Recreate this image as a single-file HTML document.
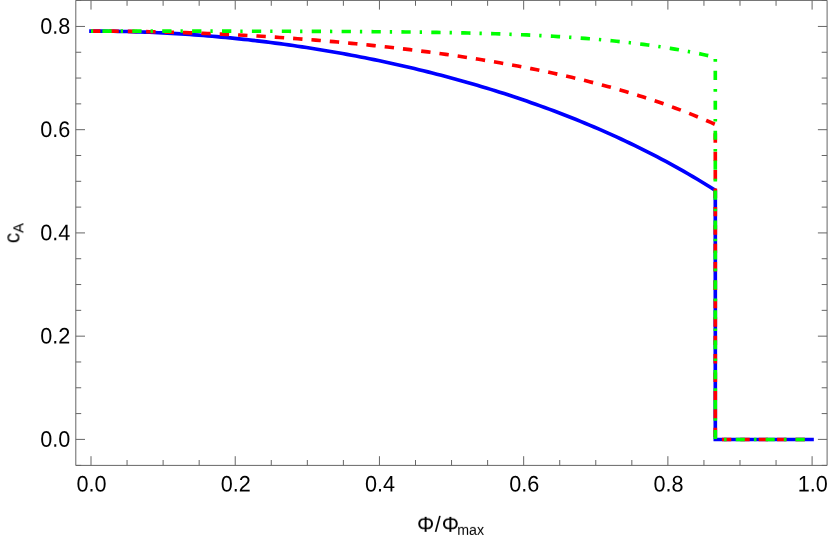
<!DOCTYPE html>
<html><head><meta charset="utf-8"><title>plot</title>
<style>html,body{margin:0;padding:0;background:#fff;}body{width:830px;height:537px;overflow:hidden;position:relative;font-family:"Liberation Sans",sans-serif;}</style>
</head><body>
<svg width="830" height="537" viewBox="0 0 830 537" style="position:absolute;left:0;top:0">
<rect x="0" y="0" width="830" height="537" fill="#fff"/>
<path d="M91.00,31.10 L95.49,31.11 L99.98,31.13 L104.47,31.16 L108.97,31.21 L113.46,31.28 L117.95,31.36 L122.44,31.45 L126.93,31.55 L131.42,31.67 L135.91,31.81 L140.41,31.96 L144.90,32.12 L149.39,32.30 L153.88,32.49 L158.37,32.70 L162.86,32.92 L167.35,33.15 L171.84,33.40 L176.34,33.66 L180.83,33.94 L185.32,34.23 L189.81,34.54 L194.30,34.86 L198.79,35.19 L203.28,35.54 L207.78,35.90 L212.27,36.28 L216.76,36.67 L221.25,37.08 L225.74,37.50 L230.23,37.93 L234.72,38.38 L239.22,38.84 L243.71,39.32 L248.20,39.81 L252.69,40.32 L257.18,40.84 L261.67,41.38 L266.16,41.93 L270.65,42.49 L275.15,43.07 L279.64,43.67 L284.13,44.28 L288.62,44.90 L293.11,45.54 L297.60,46.19 L302.09,46.86 L306.59,47.55 L311.08,48.25 L315.57,48.96 L320.06,49.69 L324.55,50.43 L329.04,51.19 L333.53,51.97 L338.03,52.75 L342.52,53.56 L347.01,54.38 L351.50,55.22 L355.99,56.07 L360.48,56.93 L364.97,57.82 L369.46,58.72 L373.96,59.63 L378.45,60.56 L382.94,61.51 L387.43,62.47 L391.92,63.45 L396.41,64.45 L400.90,65.46 L405.40,66.49 L409.89,67.53 L414.38,68.59 L418.87,69.67 L423.36,70.77 L427.85,71.88 L432.34,73.01 L436.84,74.16 L441.33,75.33 L445.82,76.51 L450.31,77.72 L454.80,78.94 L459.29,80.18 L463.78,81.43 L468.27,82.71 L472.77,84.00 L477.26,85.32 L481.75,86.65 L486.24,88.00 L490.73,89.38 L495.22,90.77 L499.71,92.18 L504.21,93.61 L508.70,95.07 L513.19,96.54 L517.68,98.04 L522.17,99.56 L526.66,101.10 L531.15,102.66 L535.65,104.24 L540.14,105.85 L544.63,107.47 L549.12,109.13 L553.61,110.80 L558.10,112.50 L562.59,114.22 L567.08,115.97 L571.58,117.74 L576.07,119.54 L580.56,121.37 L585.05,123.22 L589.54,125.09 L594.03,127.00 L598.52,128.93 L603.02,130.88 L607.51,132.87 L612.00,134.89 L616.49,136.93 L620.98,139.00 L625.47,141.11 L629.96,143.24 L634.46,145.41 L638.95,147.60 L643.44,149.83 L647.93,152.09 L652.42,154.39 L656.91,156.72 L661.40,159.08 L665.89,161.48 L670.39,163.91 L674.88,166.38 L679.37,168.89 L683.86,171.43 L688.35,174.01 L692.84,176.63 L697.33,179.29 L701.83,181.99 L706.32,184.73 L710.81,187.52 L715.30,190.34 L715.30,439.50 L812.00,439.50" fill="none" stroke="#0000ff" stroke-width="3.65" stroke-linecap="square" stroke-linejoin="miter"/>
<path d="M91.00,31.10 L95.49,31.10 L99.98,31.11 L104.47,31.13 L108.97,31.16 L113.46,31.19 L117.95,31.23 L122.44,31.28 L126.93,31.33 L131.42,31.39 L135.91,31.46 L140.41,31.53 L144.90,31.62 L149.39,31.71 L153.88,31.80 L158.37,31.91 L162.86,32.02 L167.35,32.14 L171.84,32.26 L176.34,32.39 L180.83,32.53 L185.32,32.68 L189.81,32.83 L194.30,33.00 L198.79,33.16 L203.28,33.34 L207.78,33.52 L212.27,33.71 L216.76,33.91 L221.25,34.12 L225.74,34.33 L230.23,34.55 L234.72,34.77 L239.22,35.01 L243.71,35.25 L248.20,35.50 L252.69,35.75 L257.18,36.02 L261.67,36.29 L266.16,36.57 L270.65,36.85 L275.15,37.14 L279.64,37.45 L284.13,37.75 L288.62,38.07 L293.11,38.39 L297.60,38.72 L302.09,39.06 L306.59,39.41 L311.08,39.76 L315.57,40.12 L320.06,40.49 L324.55,40.87 L329.04,41.26 L333.53,41.65 L338.03,42.05 L342.52,42.46 L347.01,42.88 L351.50,43.31 L355.99,43.74 L360.48,44.19 L364.97,44.64 L369.46,45.10 L373.96,45.57 L378.45,46.05 L382.94,46.54 L387.43,47.03 L391.92,47.54 L396.41,48.05 L400.90,48.58 L405.40,49.11 L409.89,49.65 L414.38,50.21 L418.87,50.77 L423.36,51.34 L427.85,51.93 L432.34,52.52 L436.84,53.12 L441.33,53.74 L445.82,54.36 L450.31,55.00 L454.80,55.65 L459.29,56.31 L463.78,56.98 L468.27,57.67 L472.77,58.36 L477.26,59.07 L481.75,59.79 L486.24,60.53 L490.73,61.27 L495.22,62.03 L499.71,62.81 L504.21,63.60 L508.70,64.40 L513.19,65.22 L517.68,66.05 L522.17,66.90 L526.66,67.76 L531.15,68.64 L535.65,69.54 L540.14,70.45 L544.63,71.38 L549.12,72.32 L553.61,73.29 L558.10,74.27 L562.59,75.27 L567.08,76.29 L571.58,77.33 L576.07,78.40 L580.56,79.48 L585.05,80.58 L589.54,81.70 L594.03,82.85 L598.52,84.02 L603.02,85.21 L607.51,86.42 L612.00,87.66 L616.49,88.93 L620.98,90.22 L625.47,91.53 L629.96,92.87 L634.46,94.24 L638.95,95.64 L643.44,97.07 L647.93,98.53 L652.42,100.01 L656.91,101.53 L661.40,103.08 L665.89,104.66 L670.39,106.28 L674.88,107.92 L679.37,109.61 L683.86,111.33 L688.35,113.08 L692.84,114.88 L697.33,116.71 L701.83,118.58 L706.32,120.49 L710.81,122.45 L715.30,124.44" fill="none" stroke="#ff0000" stroke-width="3.65" stroke-dasharray="9.4 8.99"/>
<path d="M715.3,124.5 L715.3,439.5 L812.0,439.5" fill="none" stroke="#ff0000" stroke-width="3.65" stroke-dasharray="9.4 9.0" stroke-dashoffset="9.60"/>
<path d="M91.00,31.10 L95.49,31.10 L99.98,31.10 L104.47,31.10 L108.97,31.10 L113.46,31.10 L117.95,31.10 L122.44,31.10 L126.93,31.11 L131.42,31.11 L135.91,31.11 L140.41,31.11 L144.90,31.11 L149.39,31.11 L153.88,31.12 L158.37,31.12 L162.86,31.12 L167.35,31.12 L171.84,31.13 L176.34,31.13 L180.83,31.13 L185.32,31.14 L189.81,31.14 L194.30,31.14 L198.79,31.15 L203.28,31.15 L207.78,31.16 L212.27,31.16 L216.76,31.17 L221.25,31.17 L225.74,31.18 L230.23,31.18 L234.72,31.19 L239.22,31.20 L243.71,31.20 L248.20,31.21 L252.69,31.22 L257.18,31.23 L261.67,31.24 L266.16,31.24 L270.65,31.25 L275.15,31.26 L279.64,31.27 L284.13,31.29 L288.62,31.30 L293.11,31.31 L297.60,31.32 L302.09,31.34 L306.59,31.35 L311.08,31.37 L315.57,31.38 L320.06,31.40 L324.55,31.42 L329.04,31.44 L333.53,31.46 L338.03,31.48 L342.52,31.50 L347.01,31.52 L351.50,31.55 L355.99,31.57 L360.48,31.60 L364.97,31.63 L369.46,31.66 L373.96,31.70 L378.45,31.73 L382.94,31.77 L387.43,31.81 L391.92,31.85 L396.41,31.89 L400.90,31.94 L405.40,31.99 L409.89,32.04 L414.38,32.09 L418.87,32.15 L423.36,32.21 L427.85,32.28 L432.34,32.34 L436.84,32.42 L441.33,32.49 L445.82,32.57 L450.31,32.65 L454.80,32.74 L459.29,32.83 L463.78,32.93 L468.27,33.03 L472.77,33.14 L477.26,33.25 L481.75,33.37 L486.24,33.50 L490.73,33.63 L495.22,33.76 L499.71,33.91 L504.21,34.06 L508.70,34.22 L513.19,34.39 L517.68,34.56 L522.17,34.75 L526.66,34.94 L531.15,35.14 L535.65,35.35 L540.14,35.57 L544.63,35.80 L549.12,36.04 L553.61,36.29 L558.10,36.56 L562.59,36.83 L567.08,37.12 L571.58,37.42 L576.07,37.73 L580.56,38.06 L585.05,38.40 L589.54,38.76 L594.03,39.13 L598.52,39.51 L603.02,39.92 L607.51,40.34 L612.00,40.78 L616.49,41.23 L620.98,41.70 L625.47,42.20 L629.96,42.71 L634.46,43.24 L638.95,43.80 L643.44,44.38 L647.93,44.98 L652.42,45.60 L656.91,46.24 L661.40,46.92 L665.89,47.61 L670.39,48.34 L674.88,49.09 L679.37,49.87 L683.86,50.67 L688.35,51.51 L692.84,52.38 L697.33,53.28 L701.83,54.21 L706.32,55.18 L710.81,56.18 L715.30,57.21" fill="none" stroke="#00ff00" stroke-width="3.65" stroke-dasharray="2.3 9.3 9.3 9.0" stroke-dashoffset="0.2"/>
<path d="M715.3,59.1 L715.3,439.5 L812.0,439.5" fill="none" stroke="#00ff00" stroke-width="3.65" stroke-dasharray="2.6 9.1 9.13 9.1"/>
<g stroke="#666666" stroke-width="1.0" fill="none">
<path d="M75.8,0.4 L827.1,0.4 L827.1,465.4 L75.8,465.4 Z"/>
<path d="M91.00,465.4 L91.00,456.20 M91.00,0.4 L91.00,9.60"/>
<path d="M127.06,465.4 L127.06,460.00 M127.06,0.4 L127.06,5.80"/>
<path d="M163.11,465.4 L163.11,460.00 M163.11,0.4 L163.11,5.80"/>
<path d="M199.17,465.4 L199.17,460.00 M199.17,0.4 L199.17,5.80"/>
<path d="M235.22,465.4 L235.22,456.20 M235.22,0.4 L235.22,9.60"/>
<path d="M271.27,465.4 L271.27,460.00 M271.27,0.4 L271.27,5.80"/>
<path d="M307.33,465.4 L307.33,460.00 M307.33,0.4 L307.33,5.80"/>
<path d="M343.38,465.4 L343.38,460.00 M343.38,0.4 L343.38,5.80"/>
<path d="M379.44,465.4 L379.44,456.20 M379.44,0.4 L379.44,9.60"/>
<path d="M415.50,465.4 L415.50,460.00 M415.50,0.4 L415.50,5.80"/>
<path d="M451.55,465.4 L451.55,460.00 M451.55,0.4 L451.55,5.80"/>
<path d="M487.61,465.4 L487.61,460.00 M487.61,0.4 L487.61,5.80"/>
<path d="M523.66,465.4 L523.66,456.20 M523.66,0.4 L523.66,9.60"/>
<path d="M559.72,465.4 L559.72,460.00 M559.72,0.4 L559.72,5.80"/>
<path d="M595.77,465.4 L595.77,460.00 M595.77,0.4 L595.77,5.80"/>
<path d="M631.83,465.4 L631.83,460.00 M631.83,0.4 L631.83,5.80"/>
<path d="M667.88,465.4 L667.88,456.20 M667.88,0.4 L667.88,9.60"/>
<path d="M703.94,465.4 L703.94,460.00 M703.94,0.4 L703.94,5.80"/>
<path d="M739.99,465.4 L739.99,460.00 M739.99,0.4 L739.99,5.80"/>
<path d="M776.05,465.4 L776.05,460.00 M776.05,0.4 L776.05,5.80"/>
<path d="M812.10,465.4 L812.10,456.20 M812.10,0.4 L812.10,9.60"/>
<path d="M75.8,465.40 L81.20,465.40 M827.1,465.40 L821.70,465.40"/>
<path d="M75.8,439.40 L85.00,439.40 M827.1,439.40 L817.90,439.40"/>
<path d="M75.8,413.59 L81.20,413.59 M827.1,413.59 L821.70,413.59"/>
<path d="M75.8,387.78 L81.20,387.78 M827.1,387.78 L821.70,387.78"/>
<path d="M75.8,361.97 L81.20,361.97 M827.1,361.97 L821.70,361.97"/>
<path d="M75.8,336.16 L85.00,336.16 M827.1,336.16 L817.90,336.16"/>
<path d="M75.8,310.35 L81.20,310.35 M827.1,310.35 L821.70,310.35"/>
<path d="M75.8,284.54 L81.20,284.54 M827.1,284.54 L821.70,284.54"/>
<path d="M75.8,258.73 L81.20,258.73 M827.1,258.73 L821.70,258.73"/>
<path d="M75.8,232.92 L85.00,232.92 M827.1,232.92 L817.90,232.92"/>
<path d="M75.8,207.11 L81.20,207.11 M827.1,207.11 L821.70,207.11"/>
<path d="M75.8,181.30 L81.20,181.30 M827.1,181.30 L821.70,181.30"/>
<path d="M75.8,155.49 L81.20,155.49 M827.1,155.49 L821.70,155.49"/>
<path d="M75.8,129.68 L85.00,129.68 M827.1,129.68 L817.90,129.68"/>
<path d="M75.8,103.87 L81.20,103.87 M827.1,103.87 L821.70,103.87"/>
<path d="M75.8,78.06 L81.20,78.06 M827.1,78.06 L821.70,78.06"/>
<path d="M75.8,52.25 L81.20,52.25 M827.1,52.25 L821.70,52.25"/>
<path d="M75.8,26.44 L85.00,26.44 M827.1,26.44 L817.90,26.44"/>
<path d="M75.8,0.40 L81.20,0.40 M827.1,0.40 L821.70,0.40"/>
</g>
<g font-family="Liberation Sans, sans-serif" font-size="22.4px" fill="#000" style="opacity:0.999">
<text transform="translate(91.60,491.60) rotate(0.1) scale(0.965,1)" text-anchor="middle">0.0</text>
<text transform="translate(235.82,491.60) rotate(0.1) scale(0.965,1)" text-anchor="middle">0.2</text>
<text transform="translate(380.04,491.60) rotate(0.1) scale(0.965,1)" text-anchor="middle">0.4</text>
<text transform="translate(524.26,491.60) rotate(0.1) scale(0.965,1)" text-anchor="middle">0.6</text>
<text transform="translate(668.48,491.60) rotate(0.1) scale(0.965,1)" text-anchor="middle">0.8</text>
<text transform="translate(812.70,491.60) rotate(0.1) scale(0.965,1)" text-anchor="middle">1.0</text>
<text transform="translate(70.40,446.75) rotate(0.1) scale(0.965,1)" text-anchor="end">0.0</text>
<text transform="translate(70.40,343.51) rotate(0.1) scale(0.965,1)" text-anchor="end">0.2</text>
<text transform="translate(70.40,240.27) rotate(0.1) scale(0.965,1)" text-anchor="end">0.4</text>
<text transform="translate(70.40,137.03) rotate(0.1) scale(0.965,1)" text-anchor="end">0.6</text>
<text transform="translate(70.40,33.79) rotate(0.1) scale(0.965,1)" text-anchor="end">0.8</text>
<text transform="translate(417.00,531.80) rotate(0.1) scale(0.965,1)" text-anchor="start">Φ<tspan dx="0.6">/</tspan><tspan dx="0.9">Φ</tspan><tspan font-size="14.7px" dx="-1.7" dy="2.6">max</tspan></text>
<text transform="translate(19.40,243.20) rotate(-89.9) scale(0.965,1)" text-anchor="start"><tspan font-size="21.5px">c</tspan><tspan font-size="15.3px" dx="-0.2" dy="4.3">A</tspan></text>
</g>
</svg>
</body></html>
